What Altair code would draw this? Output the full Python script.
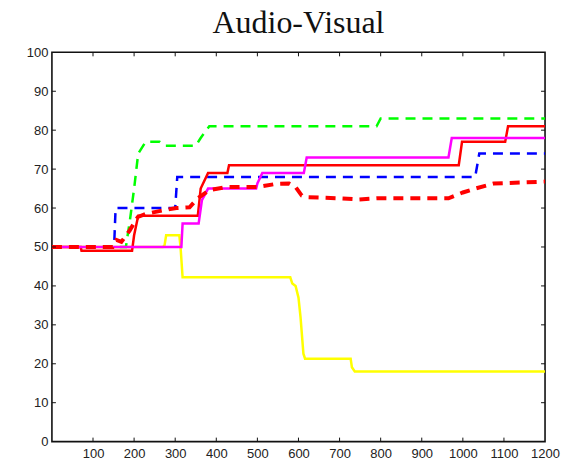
import altair as alt
import pandas as pd

# ---- data ----
green_x = [0, 180, 190, 200, 210, 228, 262, 274, 350, 362, 383, 790, 800, 1200]
green_y = [50, 50, 57, 65, 74, 77, 77, 76, 76, 78, 81, 81, 83, 83]

blue_x = [0, 148, 152, 155, 300, 305, 1030, 1040, 1200]
blue_y = [50, 50, 52, 60, 60, 68, 68, 74, 74]

red_x = [0, 70, 72, 195, 200, 210, 355, 362, 380, 427, 431, 990, 998, 1103, 1110, 1200]
red_y = [50, 50, 49, 49, 53, 58, 58, 65, 69, 69, 71, 71, 77, 77, 81, 81]

magenta_x = [0, 315, 318, 357, 365, 380, 497, 500, 512, 613, 620, 965, 973, 1200]
magenta_y = [50, 50, 56, 56, 62, 65, 65, 66.3, 69, 69, 73, 73, 78, 78]

reddash_x = [0, 148, 157, 169, 189, 209, 229, 270, 303, 335, 355, 383, 425, 500, 545, 577, 593,
             608, 620, 700, 747, 790, 965, 1000, 1030, 1075, 1200]
reddash_y = [50, 50, 51.8, 51.3, 54.2, 57.7, 58.5, 59.4, 60, 60.2, 62.5, 64.6, 65.4, 65.4, 66.2,
             66.3, 65.4, 63.2, 62.8, 62.5, 62.2, 62.5, 62.5, 64, 65, 66.3, 66.8]

yellow_x = [0, 270, 274, 278, 310, 313, 318, 580, 585, 593, 600, 605, 612, 616, 727, 730, 737, 1200]
yellow_y = [50, 50, 50.4, 53, 53, 50, 42.2, 42.2, 40.6, 40, 37, 32, 22.6, 21.3, 21.3, 19.1, 18, 18]

x_ticks = [100, 200, 300, 400, 500, 600, 700, 800, 900, 1000, 1100, 1200]
y_ticks = [0, 10, 20, 30, 40, 50, 60, 70, 80, 90, 100]

W, H = 494, 390

series = [
    ("yellow", yellow_x, yellow_y, "#ffff00", 2.5, None),
    ("green", green_x, green_y, "#00ff00", 2.5, [10, 7]),
    ("blue", blue_x, blue_y, "#0000ff", 2.5, [10, 7]),
    ("red", red_x, red_y, "#ff0000", 2.5, None),
    ("magenta", magenta_x, magenta_y, "#ff00ff", 2.5, None),
    ("reddash", reddash_x, reddash_y, "#ff0000", 4, [10, 7]),
]

rows = []
for name, xs, ys, *_ in series:
    for i, (a, b) in enumerate(zip(xs, ys)):
        rows.append({"s": name, "i": i, "x": a, "y": b})
df = pd.DataFrame(rows)

xscale = alt.Scale(domain=[0, 1200], nice=False, zero=False)
yscale = alt.Scale(domain=[0, 100], nice=False)

common = dict(ticks=False, domain=False, grid=False, labelFont="Liberation Sans",
              labelFontSize=13, labelColor="#222", title=None, format="d",
              labelOverlap=False, labelFlush=False)
xaxis = alt.Axis(values=x_ticks, labelPadding=6, **common)
yaxis = alt.Axis(values=y_ticks, labelPadding=4, **common)

layers = []
for name, xs, ys, color, sw, dash in series:
    kw = dict(color=color, strokeWidth=sw, clip=True)
    if dash:
        kw["strokeDash"] = dash
    layers.append(
        alt.Chart(df).transform_filter(alt.datum.s == name).mark_line(**kw).encode(
            x=alt.X("x:Q", scale=xscale, axis=xaxis),
            y=alt.Y("y:Q", scale=yscale, axis=yaxis),
            order="i:Q",
        )
    )

xt = pd.DataFrame({"x": x_ticks[:-1]})
yt = pd.DataFrame({"y": y_ticks[1:-1]})
tick_color = "#111"
bottom_ticks = alt.Chart(xt).mark_rule(color=tick_color, strokeWidth=1).encode(
    x=alt.X("x:Q", scale=xscale, axis=xaxis), y=alt.value(H), y2=alt.value(H - 4))
top_ticks = alt.Chart(xt).mark_rule(color=tick_color, strokeWidth=1).encode(
    x=alt.X("x:Q", scale=xscale, axis=xaxis), y=alt.value(0), y2=alt.value(4))
left_ticks = alt.Chart(yt).mark_rule(color=tick_color, strokeWidth=1).encode(
    y=alt.Y("y:Q", scale=yscale, axis=yaxis), x=alt.value(0), x2=alt.value(4))
right_ticks = alt.Chart(yt).mark_rule(color=tick_color, strokeWidth=1).encode(
    y=alt.Y("y:Q", scale=yscale, axis=yaxis), x=alt.value(W), x2=alt.value(W - 4))

chart = alt.layer(*layers, bottom_ticks, top_ticks, left_ticks, right_ticks).properties(
    width=W,
    height=H,
    background="white",
    autosize=alt.AutoSizeParams(type="none"),
    padding={"left": 44, "top": 44, "right": 20, "bottom": 18},
    title=alt.TitleParams("Audio-Visual", font="Liberation Serif", fontSize=32,
                          fontWeight="normal", color="#111", anchor="middle",
                          offset=6),
).configure_view(stroke="#111", strokeWidth=1.6)

chart.save("out.html", embed_options={"renderer": "svg", "actions": False})
